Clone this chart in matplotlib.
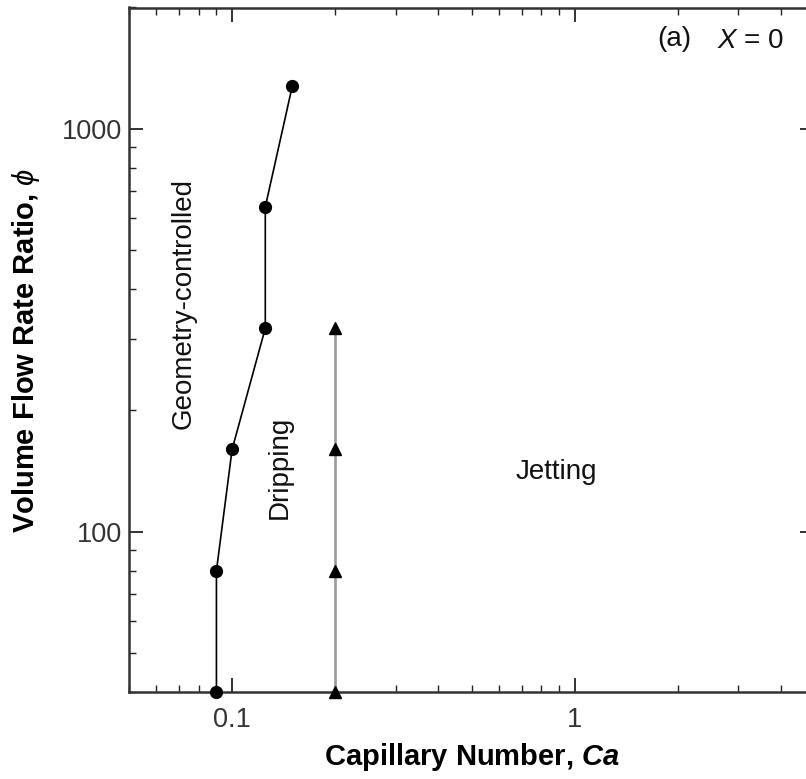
import matplotlib
matplotlib.use("Agg")
import matplotlib.pyplot as plt
from matplotlib.ticker import LogLocator, NullFormatter, FixedLocator, FixedFormatter

plt.rcParams['font.family'] = ['Liberation Sans', 'DejaVu Sans']
plt.rcParams['mathtext.fontset'] = 'custom'
plt.rcParams['mathtext.rm'] = 'Liberation Sans'
plt.rcParams['mathtext.it'] = 'Liberation Sans:italic'
plt.rcParams['mathtext.bf'] = 'Liberation Sans:bold'
plt.rcParams['mathtext.bfit'] = 'Liberation Sans:italic:bold'

# geometry-controlled / dripping boundary
ca_geom = [0.09, 0.09, 0.1, 0.125, 0.125, 0.15]
phi_geom = [40, 80, 160, 320, 640, 1280]

# dripping / jetting boundary
ca_jet = [0.2, 0.2, 0.2, 0.2]
phi_jet = [40, 80, 160, 320]

fig = plt.figure(figsize=(8.06, 7.79), dpi=100)
ax = fig.add_axes([129 / 806, 87 / 779, (814 - 129) / 806, (771.5 - 87) / 779])

ax.plot(ca_geom, phi_geom, color='black', lw=1.2, marker='o', ms=8.5,
        clip_on=False, zorder=3)
ax.plot(ca_jet, phi_jet, color='#999999', lw=1.9, marker='^', ms=8.5,
        mfc='black', mec='black', clip_on=False, zorder=3)

ax.set_xscale('log')
ax.set_yscale('log')
ax.set_xlim(0.05, 5)
ax.set_ylim(40, 2000)

ax.xaxis.set_major_locator(FixedLocator([0.1, 1]))
ax.xaxis.set_major_formatter(FixedFormatter(['0.1', '1']))
ax.xaxis.set_minor_locator(LogLocator(base=10, subs=range(2, 10)))
ax.xaxis.set_minor_formatter(NullFormatter())
ax.yaxis.set_major_locator(FixedLocator([100, 1000]))
ax.yaxis.set_major_formatter(FixedFormatter(['100', '1000']))
ax.yaxis.set_minor_locator(LogLocator(base=10, subs=range(2, 10)))
ax.yaxis.set_minor_formatter(NullFormatter())

ax.tick_params(which='both', direction='in', top=True, right=True,
               colors='#222222', labelcolor='#333333', labelsize=19.5)
ax.tick_params(which='major', length=10, width=1.3)
ax.tick_params(axis='x', which='major', pad=11)
ax.tick_params(axis='y', which='major', pad=5)
ax.tick_params(which='minor', length=5, width=1.0)
for sp in ax.spines.values():
    sp.set_linewidth(1.8)
    sp.set_color('#333333')

ax.set_xlabel(r'Capillary Number, $\mathbfit{Ca}$', fontsize=21,
              fontweight='bold', va='center')
ax.set_ylabel(r'Volume Flow Rate Ratio, $\mathit{\phi}$', fontsize=21,
              fontweight='bold', va='center')
ax.xaxis.set_label_coords(0.5, -(757 - 692) / 684.5)
ax.yaxis.set_label_coords(-(129 - 26) / 685, 1 - (350 - 7.5) / 684.5)

ax.text(0.0724, 368, 'Geometry-controlled', rotation=90, fontsize=20,
        ha='center', va='center', color='#111111')
ax.text(0.138, 144, 'Dripping', rotation=90, fontsize=20,
        ha='center', va='center', color='#111111')
ax.text(0.886, 141, 'Jetting', fontsize=20, ha='center', va='center',
        color='#111111')
ax.text(1.95, 1670, '(a)', fontsize=20, ha='center', va='center',
        color='#111111')
ax.text(3.27, 1655, r'$\mathit{X}$ = 0', fontsize=20, ha='center',
        va='center', color='#111111')

fig.savefig('out.png', dpi=100)
